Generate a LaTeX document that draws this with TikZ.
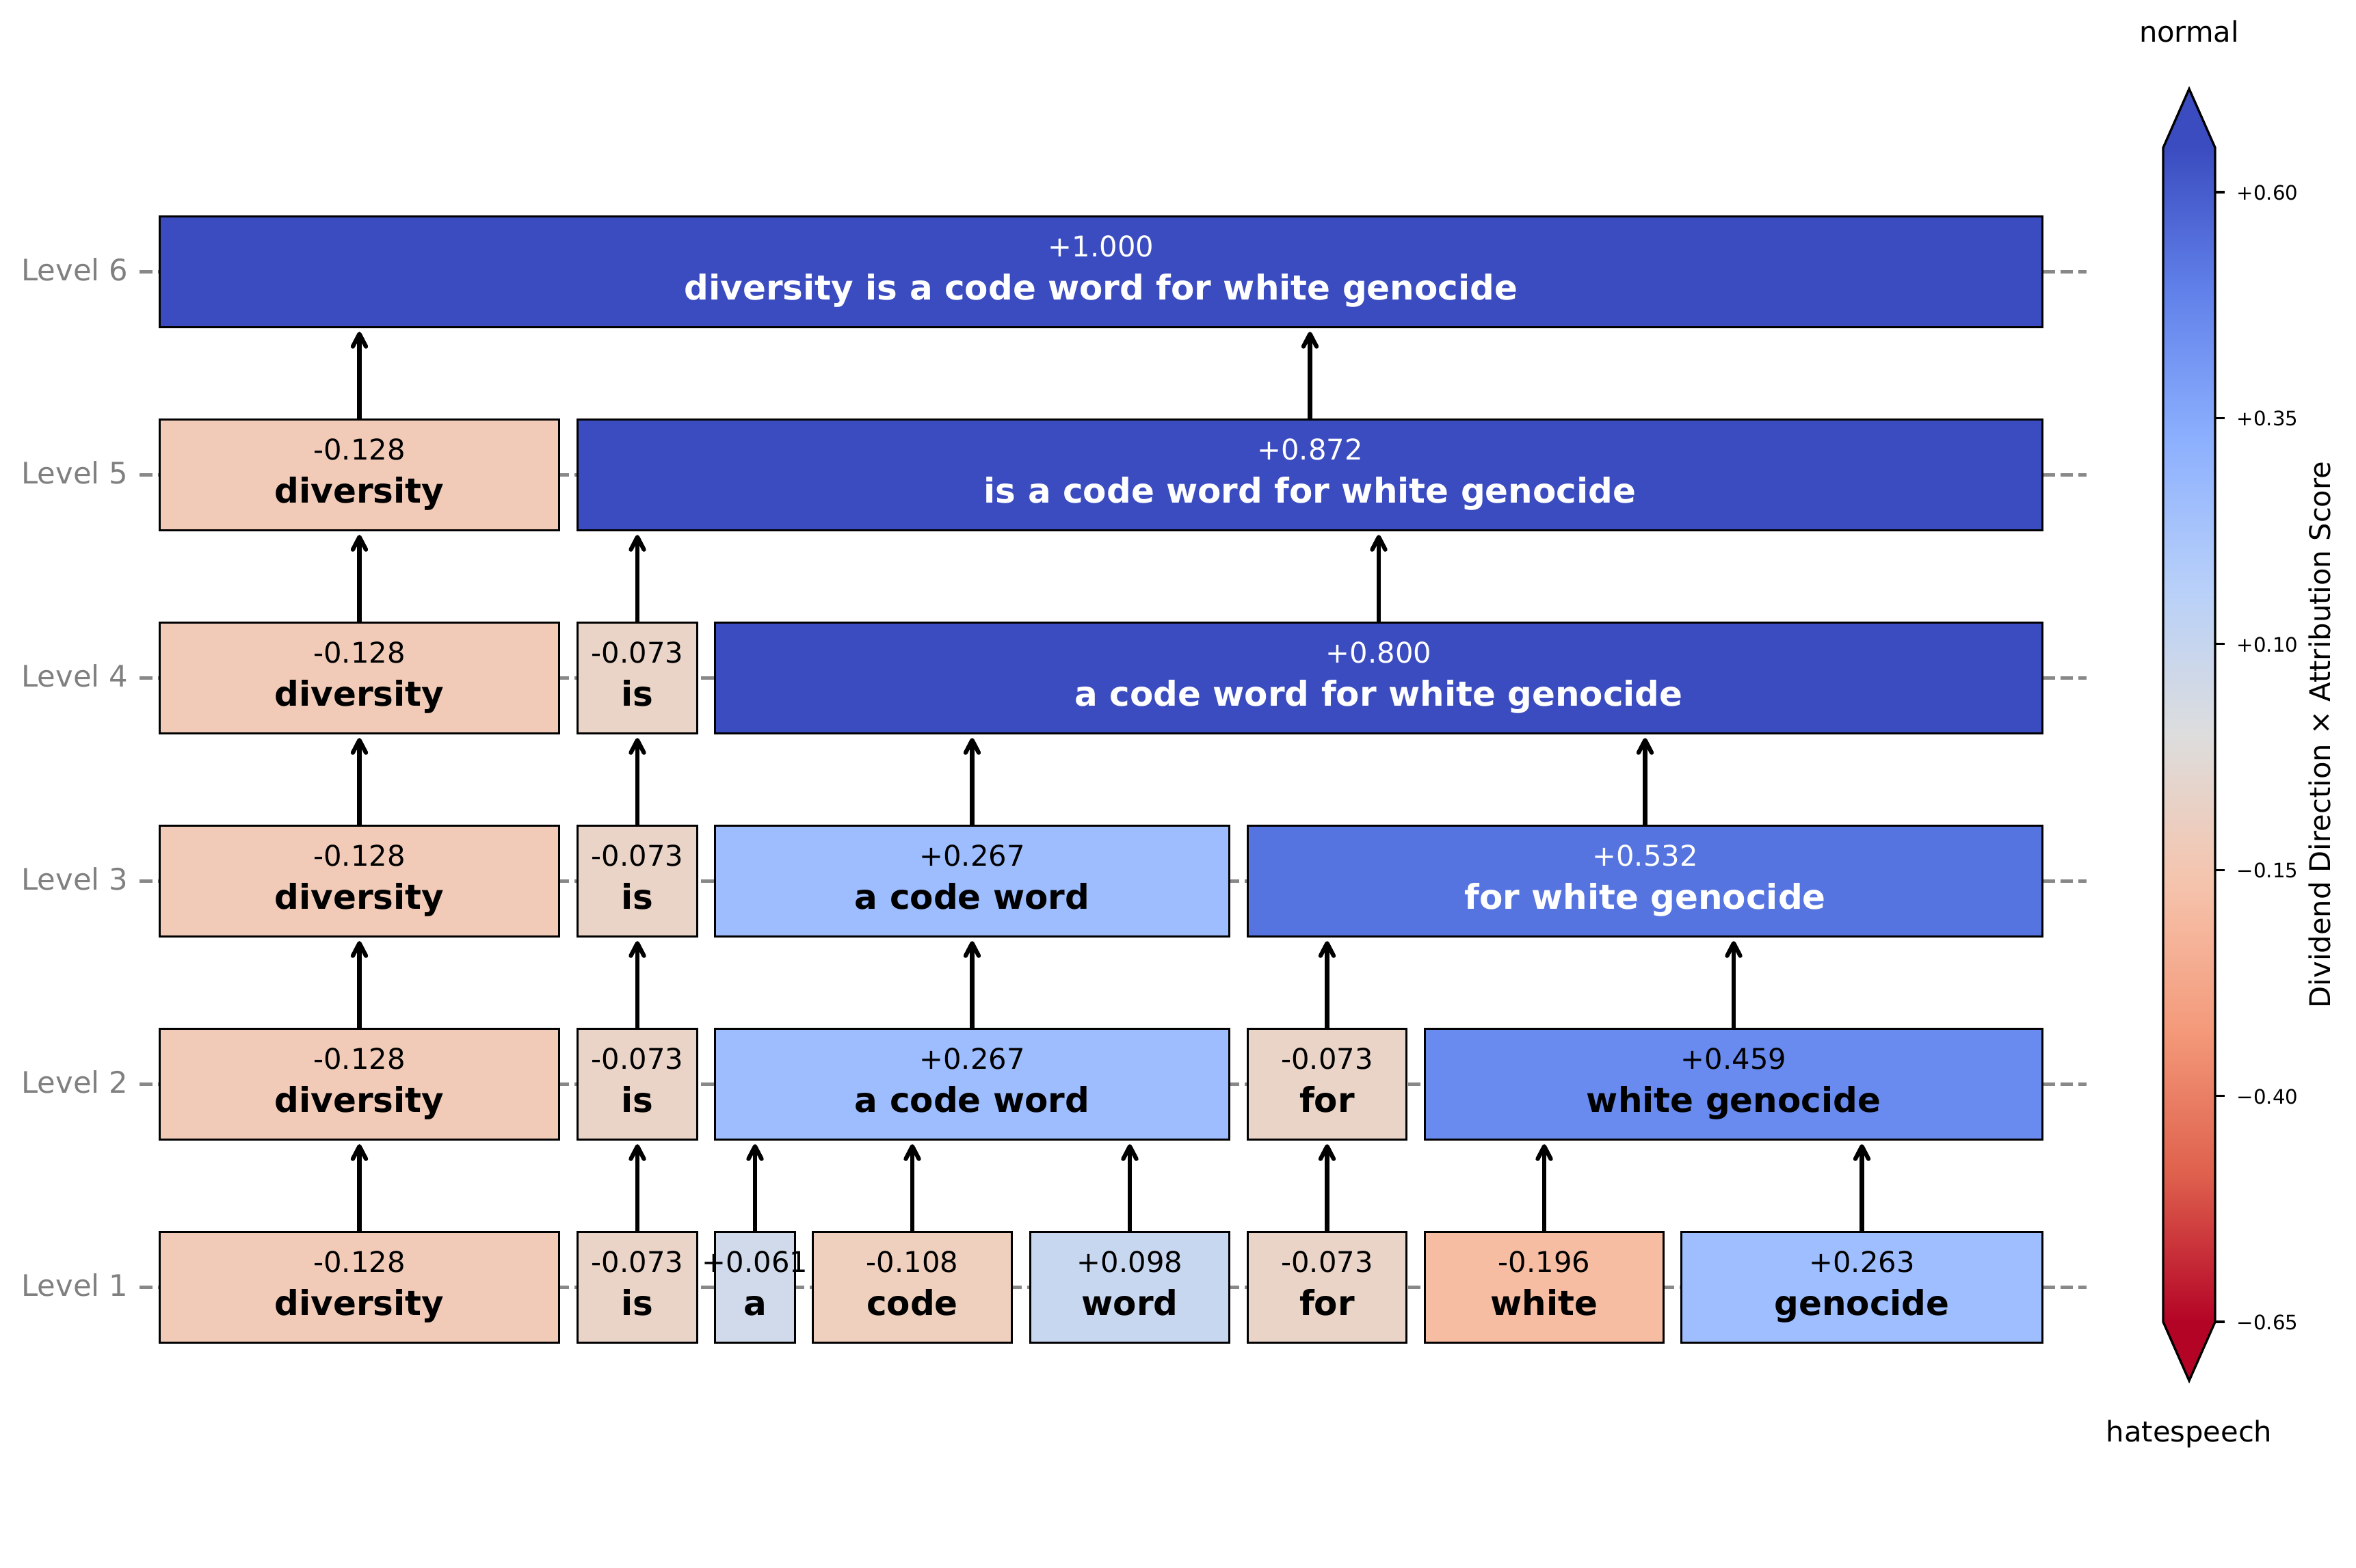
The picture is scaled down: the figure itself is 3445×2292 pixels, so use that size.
\documentclass[tikz,border=0pt]{standalone}
\usepackage{fontspec}
\setmainfont{DejaVu Sans}
\usetikzlibrary{arrows.meta}

% box fills (coolwarm, reversed, -0.65 .. +0.65)
\definecolor{c128}{RGB}{241,203,184}
\definecolor{c073}{RGB}{234,212,200}
\definecolor{c061}{RGB}{208,218,234}
\definecolor{c108}{RGB}{239,207,189}
\definecolor{c098}{RGB}{200,215,240}
\definecolor{c196}{RGB}{246,189,162}
\definecolor{c263}{RGB}{158,190,255}
\definecolor{c267}{RGB}{157,189,255}
\definecolor{c459}{RGB}{105,139,239}
\definecolor{c532}{RGB}{86,116,224}
\definecolor{cmax}{RGB}{59,76,192}
\definecolor{guidegray}{RGB}{136,136,136}
% colour bar stops
\definecolor{cw0}{RGB}{59,76,192}
\definecolor{cw1}{RGB}{98,130,234}
\definecolor{cw2}{RGB}{141,176,254}
\definecolor{cw3}{RGB}{184,208,249}
\definecolor{cw4}{RGB}{221,221,221}
\definecolor{cw5}{RGB}{245,196,173}
\definecolor{cw6}{RGB}{244,154,123}
\definecolor{cw7}{RGB}{222,96,77}
\definecolor{cw8}{RGB}{180,4,38}
\pgfdeclareverticalshading{cwbar}{100bp}{color(0bp)=(cw8); color(25bp)=(cw8); color(31.25bp)=(cw7); color(37.5bp)=(cw6); color(43.75bp)=(cw5); color(50bp)=(cw4); color(56.25bp)=(cw3); color(62.5bp)=(cw2); color(68.75bp)=(cw1); color(75bp)=(cw0); color(100bp)=(cw0)}

\tikzset{
    tok/.style={draw=black, line width=0.8pt, rectangle, minimum height=38.9pt, inner sep=0pt},
    scorelbl/.style={anchor=base, inner sep=0pt, font=\fontsize{10pt}{12pt}\selectfont},
    wordlbl/.style={anchor=base, inner sep=0pt, font=\fontsize{12pt}{14pt}\selectfont\bfseries},
    levellbl/.style={anchor=base east, inner sep=0pt, text=gray, font=\fontsize{10.4pt}{12pt}\selectfont},
    guide/.style={draw=guidegray, line width=1.2pt, dash pattern=on 4.44pt off 1.92pt},
    arrow/.style={-{Straight Barb[length=4.4pt, width=4.6pt, round]}, line width=1.5pt, shorten >=1.2pt},
    cbtick/.style={anchor=mid west, inner sep=0pt, font=\fontsize{7pt}{8pt}\selectfont},
    cblbl/.style={inner sep=0pt, font=\fontsize{10pt}{12pt}\selectfont}
}

% name, left, right, level y, fill, text colour, score, word
\newcommand{\tokbox}[8]{%
  \node[tok, fill=#5, minimum width={(#3-#2-3)*0.24pt}] (#1) at ({(#2+#3)/2},#4) {};
  \node[scorelbl, text=#6] (#1s) at ([yshift=5.4pt]#1.center) {#7};
  \node[wordlbl, text=#6] (#1w) at ([yshift=-9.72pt]#1.center) {#8};
}

\begin{document}
\begin{tikzpicture}[x=0.24pt, y=-0.24pt]
\useasboundingbox (0,0) rectangle (3445,2292);

% level rows
\foreach \lv/\yc in {1/1882.5, 2/1585.5, 3/1288.5, 4/991.5, 5/694.5, 6/397.5} {
  \draw[guide] (204,\yc) -- (3051,\yc);
  \node[levellbl] (lvl\lv) at (188,\yc+13) {Level \lv};
}

% level 1
\tokbox{div1}{232}{819}{1882.5}{c128}{black}{-0.128}{diversity}
\tokbox{is1}{843}{1021}{1882.5}{c073}{black}{-0.073}{is}
\tokbox{a1}{1044}{1164}{1882.5}{c061}{black}{+0.061}{a}
\tokbox{code1}{1187}{1481}{1882.5}{c108}{black}{-0.108}{code}
\tokbox{word1}{1505}{1799}{1882.5}{c098}{black}{+0.098}{word}
\tokbox{for1}{1823}{2058}{1882.5}{c073}{black}{-0.073}{for}
\tokbox{white1}{2082}{2434}{1882.5}{c196}{black}{-0.196}{white}
\tokbox{geno1}{2457}{2988}{1882.5}{c263}{black}{+0.263}{genocide}
% level 2
\tokbox{div2}{232}{819}{1585.5}{c128}{black}{-0.128}{diversity}
\tokbox{is2}{843}{1021}{1585.5}{c073}{black}{-0.073}{is}
\tokbox{acw2}{1044}{1799}{1585.5}{c267}{black}{+0.267}{a code word}
\tokbox{for2}{1823}{2058}{1585.5}{c073}{black}{-0.073}{for}
\tokbox{wg2}{2082}{2988}{1585.5}{c459}{black}{+0.459}{white genocide}
% level 3
\tokbox{div3}{232}{819}{1288.5}{c128}{black}{-0.128}{diversity}
\tokbox{is3}{843}{1021}{1288.5}{c073}{black}{-0.073}{is}
\tokbox{acw3}{1044}{1799}{1288.5}{c267}{black}{+0.267}{a code word}
\tokbox{fwg3}{1823}{2988}{1288.5}{c532}{white}{+0.532}{for white genocide}
% level 4
\tokbox{div4}{232}{819}{991.5}{c128}{black}{-0.128}{diversity}
\tokbox{is4}{843}{1021}{991.5}{c073}{black}{-0.073}{is}
\tokbox{rest4}{1044}{2988}{991.5}{cmax}{white}{+0.800}{a code word for white genocide}
% level 5
\tokbox{div5}{232}{819}{694.5}{c128}{black}{-0.128}{diversity}
\tokbox{rest5}{843}{2988}{694.5}{cmax}{white}{+0.872}{is a code word for white genocide}
% level 6
\tokbox{all6}{232}{2988}{397.5}{cmax}{white}{+1.000}{diversity is a code word for white genocide}

% merges
\foreach \s/\t in {div1/div2, is1/is2, a1/acw2, code1/acw2, word1/acw2, for1/for2, white1/wg2, geno1/wg2,
                   div2/div3, is2/is3, acw2/acw3, for2/fwg3, wg2/fwg3,
                   div3/div4, is3/is4, acw3/rest4, fwg3/rest4,
                   div4/div5, is4/rest5, rest4/rest5,
                   div5/all6, rest5/all6}
  \draw[arrow] (\s.north) -- (\s.north |- \t.south);

% colour bar
\fill[cw0] (3163,216) -- (3201,130) -- (3239,216) -- cycle;
\fill[cw8] (3163,1933) -- (3201,2019) -- (3239,1933) -- cycle;
\shade[shading=cwbar] (3163,216) rectangle (3239,1933);
\draw[line width=0.8pt] (3163,216) -- (3201,130) -- (3239,216) -- (3239,1933) -- (3201,2019) -- (3163,1933) -- cycle;
\foreach \v/\y [count=\i] in {+0.60/281, +0.35/611.4, +0.10/941.8, −0.15/1272.2, −0.40/1602.6, −0.65/1933} {
  \draw[line width=0.8pt] (3239,\y) -- (3253,\y);
  \node[cbtick] (cbt\i) at (3270,\y) {\v};
}
\node[cblbl, anchor=base] (topend) at (3201,61) {normal};
\node[cblbl, anchor=base] (botend) at (3201,2108) {hatespeech};
\node[cblbl, anchor=base, rotate=90] (cbtitle) at (3407,1074.5) {Dividend Direction × Attribution Score};
\end{tikzpicture}
\end{document}
